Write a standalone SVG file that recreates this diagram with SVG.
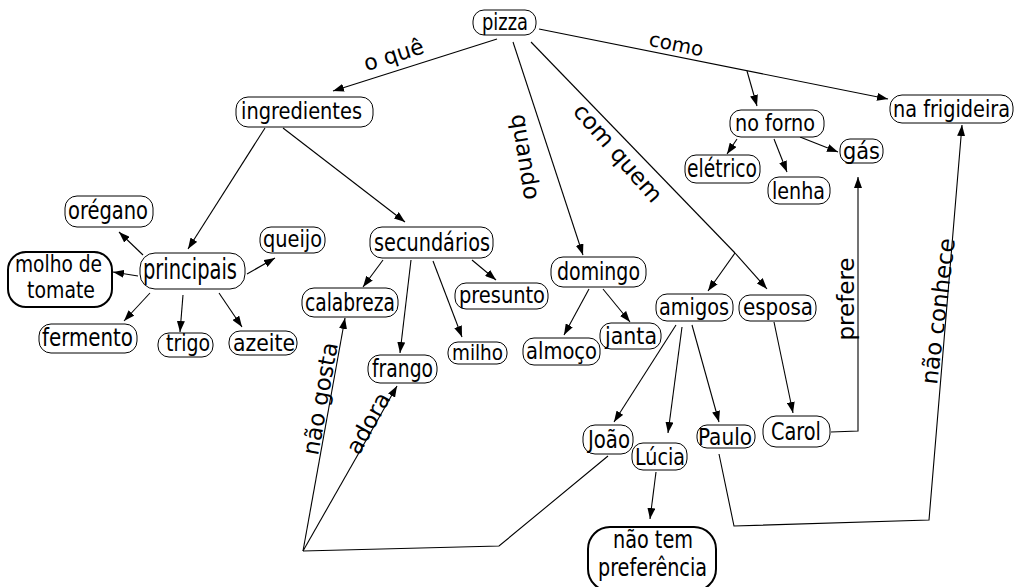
<svg xmlns="http://www.w3.org/2000/svg" width="1019" height="587" viewBox="0 0 1019 587">
<style>
.n rect{fill:#fff;stroke:#000;stroke-width:1}
.n.b rect{stroke-width:2}
.n text{font-family:"DejaVu Sans Condensed","DejaVu Sans",sans-serif;font-size:23px;text-anchor:middle;fill:#000}
.c path{fill:none;stroke:#000;stroke-width:1.1}
.l{font-family:"DejaVu Sans",sans-serif;font-size:23px;text-anchor:middle;fill:#000}
</style>
<defs>
<marker id="a" markerUnits="userSpaceOnUse" markerWidth="12" markerHeight="8" refX="11" refY="4" orient="auto"><path d="M0,0 L11,4 L0,8 z" fill="#000"/></marker>
</defs>
<rect width="1019" height="587" fill="#fff"/>
<g class="c" id="connectors">
<path d="M497,39 L333,91" marker-end="url(#a)"/>
<path d="M539,29 L888,99" marker-end="url(#a)"/>
<path d="M747,71 L757,106" marker-end="url(#a)"/>
<path d="M513,42 L583,255" marker-end="url(#a)"/>
<path d="M531,42 L735,253"/>
<path d="M735,253 L708,291" marker-end="url(#a)"/>
<path d="M735,253 L767,289" marker-end="url(#a)"/>
<path d="M737,139 L727,154" marker-end="url(#a)"/>
<path d="M774,139 L787,172" marker-end="url(#a)"/>
<path d="M800,137 L838,152" marker-end="url(#a)"/>
<path d="M265,128 L188,249" marker-end="url(#a)"/>
<path d="M283,128 L405,222" marker-end="url(#a)"/>
<path d="M143,255 L119,232" marker-end="url(#a)"/>
<path d="M138,276 L113,272" marker-end="url(#a)"/>
<path d="M247,274 L275,258" marker-end="url(#a)"/>
<path d="M150,293 L124,321" marker-end="url(#a)"/>
<path d="M183,295 L180,332" marker-end="url(#a)"/>
<path d="M219,293 L242,327" marker-end="url(#a)"/>
<path d="M383,260 L363,287" marker-end="url(#a)"/>
<path d="M411,260 L400,353" marker-end="url(#a)"/>
<path d="M433,261 L462,337" marker-end="url(#a)"/>
<path d="M472,260 L496,280" marker-end="url(#a)"/>
<path d="M589,289 L564,335" marker-end="url(#a)"/>
<path d="M603,289 L630,322" marker-end="url(#a)"/>
<path d="M676,325 L614,422" marker-end="url(#a)"/>
<path d="M682,327 L668,433" marker-end="url(#a)"/>
<path d="M692,325 L719,422" marker-end="url(#a)"/>
<path d="M774,322 L793,413" marker-end="url(#a)"/>
<path d="M831,432 L858,431 L858,177" marker-end="url(#a)"/>
<path d="M719,454 L734,526 L929,520 L962,125" marker-end="url(#a)"/>
<path d="M608,456 L499,546 L303,551"/>
<path d="M303,551 L345,318" marker-end="url(#a)"/>
<path d="M303,551 L397,386" marker-end="url(#a)"/>
<path d="M656,472 L650,519" marker-end="url(#a)"/>
</g>
<g id="labels">
<text class="l" style="font-size:22px" transform="translate(396,62) rotate(-17.6)">o quê</text>
<text class="l" style="font-size:20px" transform="translate(675,51) rotate(11.3)">como</text>
<text class="l" transform="translate(518,158) rotate(81)">quando</text>
<text class="l" transform="translate(612,158) rotate(49)">com quem</text>
<text class="l" transform="translate(854,299) rotate(-90)">prefere</text>
<text class="l" transform="translate(946,312) rotate(-83)">não conhece</text>
<text class="l" transform="translate(328,400) rotate(-80)">não gosta</text>
<text class="l" transform="translate(375,427) rotate(-61)">adora</text>
</g>
<g class="n" id="pizza"><rect x="473" y="10" width="63" height="25" rx="11"/><text x="505" y="30" style="font-size:23px" textLength="46" lengthAdjust="spacingAndGlyphs">pizza</text></g>
<g class="n" id="ingredientes"><rect x="236" y="97" width="137" height="30" rx="12"/><text x="301.5" y="119" style="font-size:23px" textLength="121" lengthAdjust="spacingAndGlyphs">ingredientes</text></g>
<g class="n" id="oregano"><rect x="65" y="196" width="88" height="31" rx="12"/><text x="108" y="219" style="font-size:25px" textLength="80" lengthAdjust="spacingAndGlyphs">orégano</text></g>
<g class="n" id="principais"><rect x="140" y="253" width="105" height="36" rx="15"/><text x="190" y="279" style="font-size:28px" textLength="94" lengthAdjust="spacingAndGlyphs">principais</text></g>
<g class="n b" id="molho"><rect x="8" y="252" width="104" height="55" rx="18"/><text x="58.5" y="272" style="font-size:23px" textLength="87" lengthAdjust="spacingAndGlyphs">molho de</text><text x="61" y="298" style="font-size:23px" textLength="68" lengthAdjust="spacingAndGlyphs">tomate</text></g>
<g class="n" id="queijo"><rect x="260" y="227" width="65" height="26" rx="11"/><text x="292.5" y="246.5" style="font-size:23px" textLength="59" lengthAdjust="spacingAndGlyphs">queijo</text></g>
<g class="n" id="fermento"><rect x="39" y="324" width="98" height="29" rx="12"/><text x="87.5" y="345.5" style="font-size:24px" textLength="91" lengthAdjust="spacingAndGlyphs">fermento</text></g>
<g class="n" id="trigo"><rect x="158" y="333" width="55" height="24" rx="11"/><text x="188" y="351" style="font-size:23px" textLength="44" lengthAdjust="spacingAndGlyphs">trigo</text></g>
<g class="n" id="azeite"><rect x="229" y="331" width="68" height="24" rx="11"/><text x="264" y="350.5" style="font-size:23px" textLength="62" lengthAdjust="spacingAndGlyphs">azeite</text></g>
<g class="n" id="secundarios"><rect x="370" y="227" width="123" height="31" rx="12"/><text x="432" y="250.5" style="font-size:24px" textLength="116" lengthAdjust="spacingAndGlyphs">secundários</text></g>
<g class="n" id="calabreza"><rect x="302" y="288" width="96" height="29" rx="12"/><text x="350" y="310.5" style="font-size:24px" textLength="90" lengthAdjust="spacingAndGlyphs">calabreza</text></g>
<g class="n" id="presunto"><rect x="455" y="283" width="93" height="26" rx="11"/><text x="502" y="302.5" style="font-size:23px" textLength="86" lengthAdjust="spacingAndGlyphs">presunto</text></g>
<g class="n" id="frango"><rect x="368" y="355" width="69" height="28" rx="12"/><text x="402.5" y="376.5" style="font-size:24px" textLength="61" lengthAdjust="spacingAndGlyphs">frango</text></g>
<g class="n" id="milho"><rect x="448" y="342" width="59" height="22" rx="10"/><text x="477.5" y="359.5" style="font-size:22px" textLength="51" lengthAdjust="spacingAndGlyphs">milho</text></g>
<g class="n" id="domingo"><rect x="551" y="257" width="95" height="30" rx="12"/><text x="598.5" y="279.5" style="font-size:24px" textLength="83" lengthAdjust="spacingAndGlyphs">domingo</text></g>
<g class="n" id="almoco"><rect x="523" y="338" width="77" height="27" rx="11"/><text x="561.5" y="358.5" style="font-size:23px" textLength="71" lengthAdjust="spacingAndGlyphs">almoço</text></g>
<g class="n" id="janta"><rect x="600" y="323" width="61" height="26" rx="11"/><text x="631" y="343.5" style="font-size:23px" textLength="52" lengthAdjust="spacingAndGlyphs">janta</text></g>
<g class="n" id="amigos"><rect x="656" y="294" width="77" height="27" rx="11"/><text x="694" y="314.5" style="font-size:23px" textLength="70" lengthAdjust="spacingAndGlyphs">amigos</text></g>
<g class="n" id="esposa"><rect x="739" y="295" width="77" height="26" rx="11"/><text x="778" y="314.5" style="font-size:23px" textLength="70" lengthAdjust="spacingAndGlyphs">esposa</text></g>
<g class="n" id="noforno"><rect x="730" y="110" width="94" height="27" rx="11"/><text x="775" y="130.5" style="font-size:23px" textLength="80" lengthAdjust="spacingAndGlyphs">no forno</text></g>
<g class="n" id="eletrico"><rect x="685" y="155" width="75" height="28" rx="11"/><text x="722" y="176.5" style="font-size:24px" textLength="70" lengthAdjust="spacingAndGlyphs">elétrico</text></g>
<g class="n" id="lenha"><rect x="768" y="177" width="62" height="27" rx="11"/><text x="798.5" y="198.5" style="font-size:23px" textLength="53" lengthAdjust="spacingAndGlyphs">lenha</text></g>
<g class="n" id="gas"><rect x="840" y="139" width="43" height="24" rx="10"/><text x="861.5" y="158.5" style="font-size:23px" textLength="37" lengthAdjust="spacingAndGlyphs">gás</text></g>
<g class="n" id="frigideira"><rect x="890" y="95" width="123" height="28" rx="12"/><text x="951.5" y="116.5" style="font-size:23px" textLength="117" lengthAdjust="spacingAndGlyphs">na frigideira</text></g>
<g class="n" id="joao"><rect x="583" y="425" width="50" height="29" rx="12"/><text x="609" y="447.5" style="font-size:24px" textLength="42" lengthAdjust="spacingAndGlyphs">João</text></g>
<g class="n" id="lucia"><rect x="632" y="443" width="55" height="27" rx="11"/><text x="660" y="464.5" style="font-size:23px" textLength="50" lengthAdjust="spacingAndGlyphs">Lúcia</text></g>
<g class="n" id="paulo"><rect x="697" y="425" width="58" height="23" rx="10"/><text x="725" y="444.5" style="font-size:23px" textLength="54" lengthAdjust="spacingAndGlyphs">Paulo</text></g>
<g class="n" id="carol"><rect x="763" y="416" width="67" height="31" rx="13"/><text x="796" y="439.5" style="font-size:24px" textLength="50" lengthAdjust="spacingAndGlyphs">Carol</text></g>
<g class="n b" id="naotem"><rect x="588" y="527" width="128" height="64" rx="22"/><text x="653" y="548" style="font-size:24px" textLength="80" lengthAdjust="spacingAndGlyphs">não tem</text><text x="652.5" y="576" style="font-size:24px" textLength="109" lengthAdjust="spacingAndGlyphs">preferência</text></g>
</svg>
